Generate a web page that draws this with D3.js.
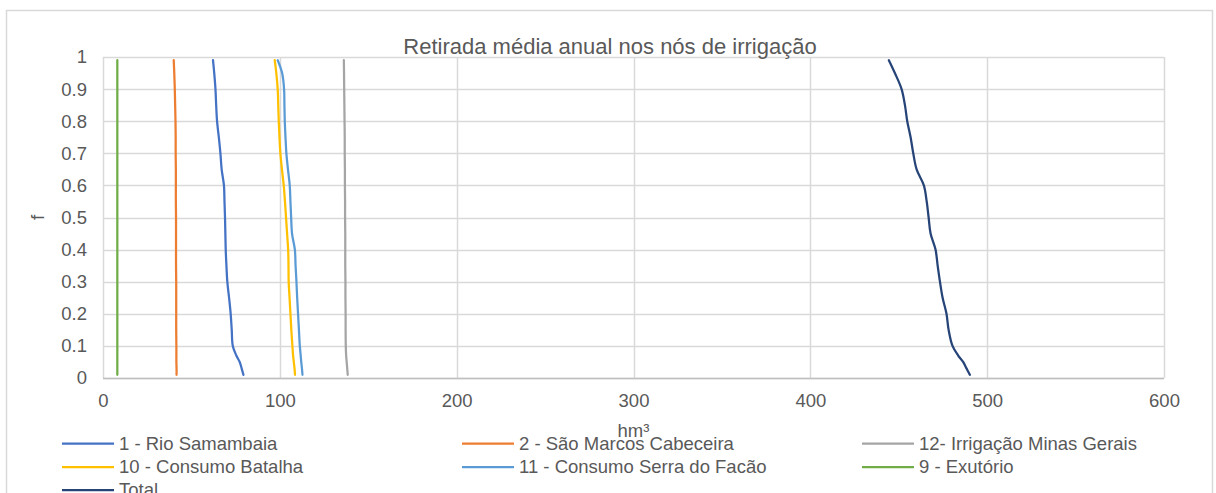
<!DOCTYPE html>
<html>
<head>
<meta charset="utf-8">
<script src="https://cdn.jsdelivr.net/npm/d3@7"></script>
<style>
  body { margin: 0; background: #fff; }
  svg { display: block; font-family: "Liberation Sans", Arial, sans-serif; }
  .tick-label { fill: #595959; font-size: 18.5px; }
</style>
</head>
<body>
<div id="chart"></div>
<script>
// probabilidade (f) comum a todas as séries
const fValues = [0.99, 0.95, 0.9, 0.85, 0.8, 0.75, 0.7, 0.65, 0.6, 0.55, 0.5, 0.45,
                 0.4, 0.35, 0.3, 0.25, 0.2, 0.15, 0.1, 0.07, 0.05, 0.03, 0.01];

const rioSamambaia = [62.2, 62.9, 63.6, 64.0, 64.5, 65.5, 66.4, 67.1, 68.4, 68.7, 69.0, 69.2,
                      69.4, 69.8, 70.3, 71.3, 72.2, 72.8, 73.4, 75.4, 77.3, 78.4, 79.4];
const saoMarcos = [40.0, 40.3, 40.6, 40.8, 41.0, 41.1, 41.1, 41.2, 41.2, 41.2, 41.3, 41.3,
                   41.3, 41.3, 41.4, 41.4, 41.4, 41.4, 41.5, 41.5, 41.5, 41.6, 41.6];
const minasGerais = [136.2, 136.3, 136.4, 136.5, 136.6, 136.7, 136.7, 136.8, 136.8, 136.9, 136.9, 137.0,
                     137.0, 137.0, 137.1, 137.1, 137.2, 137.2, 137.3, 137.5, 137.8, 138.1, 138.4];
const batalha = [97.1, 98.0, 98.8, 99.1, 99.4, 99.8, 100.3, 101.2, 102.2, 102.9, 103.5, 104.1,
                 104.7, 104.9, 105.0, 105.5, 106.0, 106.5, 107.1, 107.5, 107.9, 108.3, 108.6];
const serraFacao = [98.8, 101.3, 102.4, 102.6, 102.8, 103.2, 103.7, 104.6, 105.6, 106.0, 106.4, 106.9,
                    108.5, 108.9, 109.4, 109.8, 110.3, 110.8, 111.3, 111.8, 112.1, 112.5, 112.8];
const exutorio = [8.1, 8.1, 8.1, 8.1, 8.1, 8.1, 8.1, 8.1, 8.1, 8.1, 8.1, 8.1,
                  8.1, 8.1, 8.1, 8.1, 8.1, 8.1, 8.1, 8.1, 8.1, 8.1, 8.1];
const total = [444.4, 447.8, 451.6, 453.5, 454.8, 456.7, 458.2, 460.1, 464.2, 465.8, 466.9, 468.0,
               470.8, 472.0, 473.3, 474.8, 477.0, 478.2, 480.4, 483.6, 486.4, 488.3, 490.2];

const seriesNames = ["1 - Rio Samambaia", "2 - São Marcos Cabeceira", "12- Irrigação Minas Gerais",
                     "10 - Consumo Batalha", "11 - Consumo Serra do Facão", "9 - Exutório", "Total"];
const seriesValues = [rioSamambaia, saoMarcos, minasGerais, batalha, serraFacao, exutorio, total];
const seriesColors = ["#4472C4", "#ED7D31", "#A5A5A5", "#FFC000", "#5B9BD5", "#70AD47", "#264478"];

const xTicks = [0, 100, 200, 300, 400, 500, 600];
const yTicks = [0, 0.1, 0.2, 0.3, 0.4, 0.5, 0.6, 0.7, 0.8, 0.9, 1];

const width = 1216, height = 493;
const m = {top: 57, right: 52, bottom: 115, left: 103};

const svg = d3.select('#chart').append('svg')
  .attr('width', width)
  .attr('height', height);

svg.append('rect')
  .attr('width', width).attr('height', height)
  .attr('fill', '#fff');

// moldura do gráfico
svg.append('rect')
  .attr('x', 6.5).attr('y', 10.5)
  .attr('width', 1206).attr('height', 520)
  .attr('fill', 'none')
  .attr('stroke', '#D9D9D9')
  .attr('stroke-width', 1.5);

const x = d3.scaleLinear().domain([0, 600]).range([m.left, width - m.right]);
const y = d3.scaleLinear().domain([0, 1]).range([height - m.bottom, m.top]);

const grid = svg.append('g').attr('class', 'grid');

grid.selectAll('line.h')
  .data(yTicks)
  .enter().append('line')
  .attr('class', 'h')
  .attr('x1', x(0)).attr('x2', x(600))
  .attr('y1', d => Math.round(y(d)) + 0.5)
  .attr('y2', d => Math.round(y(d)) + 0.5)
  .attr('stroke', '#D9D9D9')
  .attr('stroke-width', 1.5);

grid.selectAll('line.v')
  .data(xTicks)
  .enter().append('line')
  .attr('class', 'v')
  .attr('y1', y(0)).attr('y2', y(1))
  .attr('x1', d => Math.round(x(d)) + 0.5)
  .attr('x2', d => Math.round(x(d)) + 0.5)
  .attr('stroke', '#D9D9D9')
  .attr('stroke-width', 1.5);

// eixos
const xAxis = d3.axisBottom(x).tickValues(xTicks).tickSize(0).tickPadding(16);
const yAxis = d3.axisLeft(y).tickValues(yTicks).tickSize(0).tickPadding(16)
  .tickFormat(d => d3.format('')(+d.toFixed(1)));

const gx = svg.append('g')
  .attr('transform', 'translate(0,' + y(0) + ')')
  .call(xAxis);
const gy = svg.append('g')
  .attr('transform', 'translate(' + x(0) + ',0)')
  .call(yAxis);

[gx, gy].forEach(g => {
  g.select('.domain').remove();
  g.selectAll('text')
    .attr('class', 'tick-label')
    .attr('font-family', null)
    .attr('font-size', null);
});

gx.append('line')
  .attr('x1', x(0)).attr('x2', x(600))
  .attr('y1', 0.5).attr('y2', 0.5)
  .attr('stroke', '#BFBFBF')
  .attr('stroke-width', 1.5);

// séries
const line = d3.line()
  .curve(d3.curveCatmullRom.alpha(0.5))
  .x(d => x(d[0]))
  .y(d => y(d[1]));

svg.append('g').selectAll('path')
  .data(seriesValues)
  .enter().append('path')
  .attr('d', vals => line(vals.map((v, i) => [v, fValues[i]])))
  .attr('fill', 'none')
  .attr('stroke', (d, i) => seriesColors[i])
  .attr('stroke-width', 2.25)
  .attr('stroke-linecap', 'round');

// títulos
svg.append('text')
  .attr('x', 610).attr('y', 54)
  .attr('text-anchor', 'middle')
  .attr('fill', '#595959')
  .attr('font-size', 22)
  .text('Retirada média anual nos nós de irrigação');

svg.append('text')
  .attr('transform', 'translate(44,' + y(0.5) + ') rotate(-90)')
  .attr('text-anchor', 'middle')
  .attr('fill', '#595959')
  .attr('font-size', 18.5)
  .text('f');

svg.append('text')
  .attr('x', (x(0) + x(600)) / 2).attr('y', 437)
  .attr('text-anchor', 'middle')
  .attr('fill', '#595959')
  .attr('font-size', 18.5)
  .text('hm³');

// legenda
const legendCols = [62, 462, 862];
const legendRows = [443.5, 467, 490];

const legend = svg.append('g').selectAll('g')
  .data(seriesNames)
  .enter().append('g')
  .attr('transform', (d, i) =>
    'translate(' + legendCols[i % 3] + ',' + legendRows[Math.floor(i / 3)] + ')');

legend.append('line')
  .attr('x1', 0).attr('x2', 52)
  .attr('stroke', (d, i) => seriesColors[i])
  .attr('stroke-width', 2.25);

legend.append('text')
  .attr('x', 57)
  .attr('dy', '0.35em')
  .attr('fill', '#595959')
  .attr('font-size', 18.5)
  .text(d => d);
</script>
</body>
</html>
